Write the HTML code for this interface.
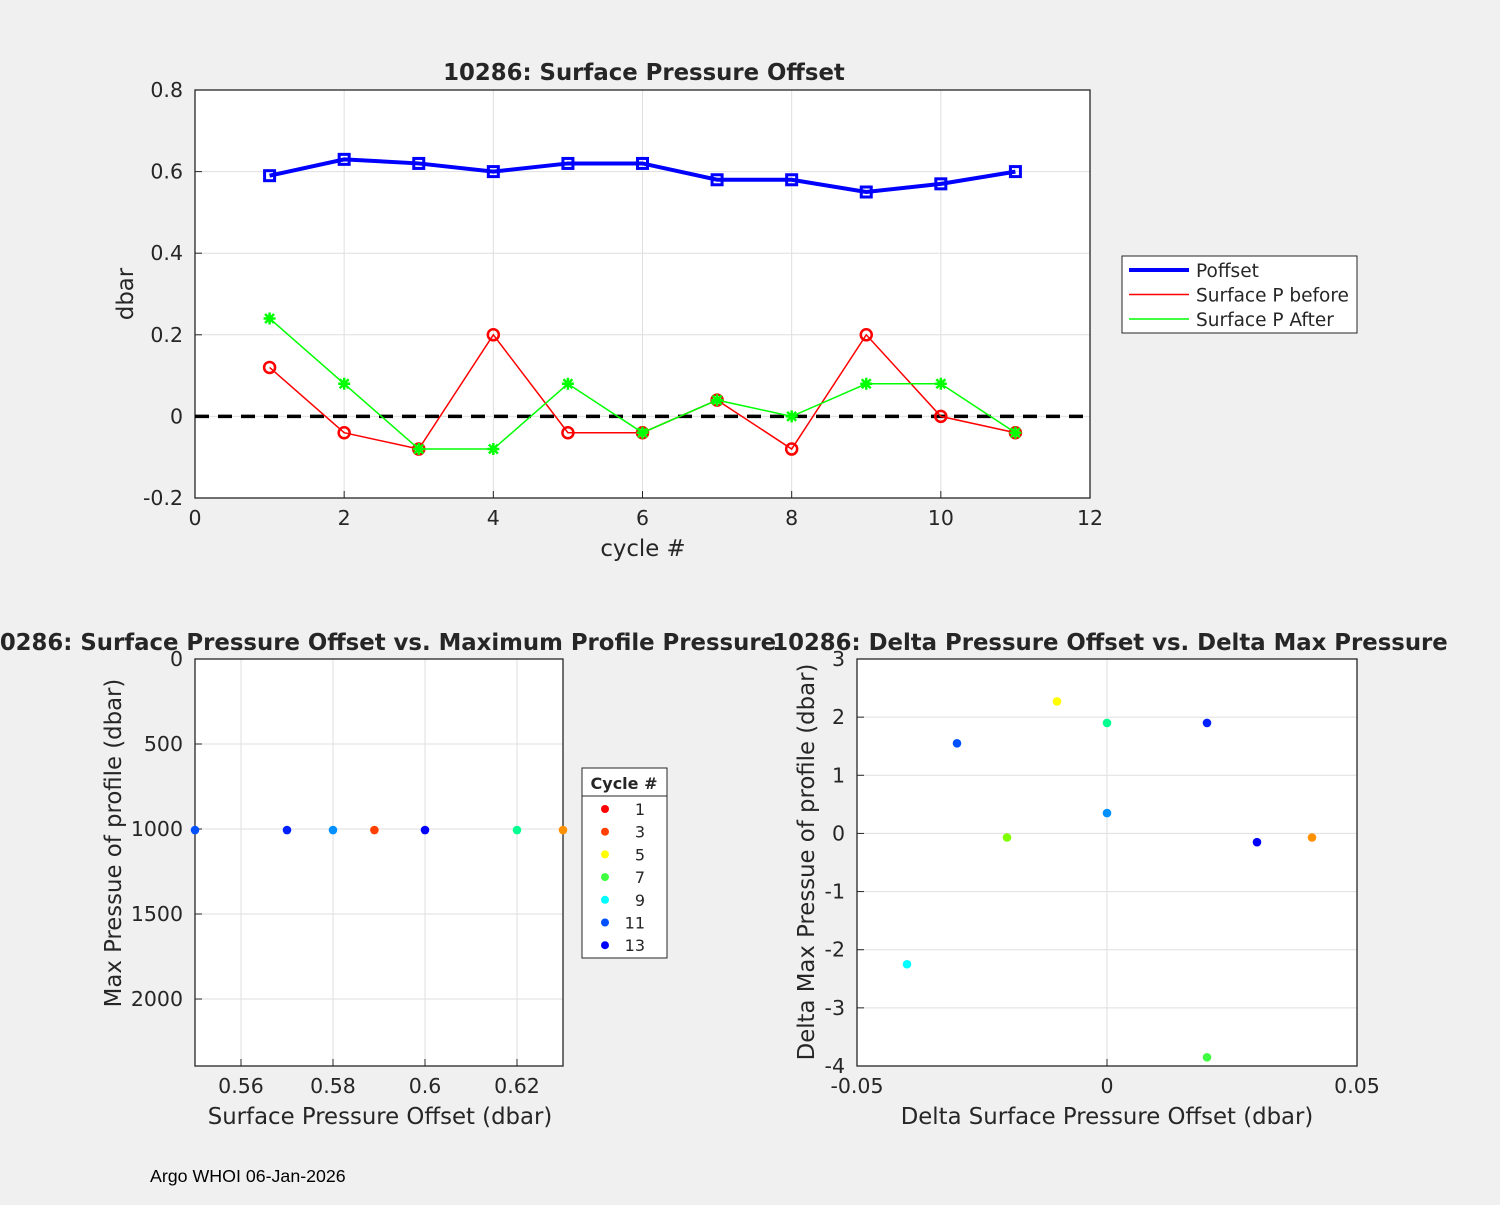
<!DOCTYPE html>
<html><head><meta charset="utf-8"><style>
body{margin:0;background:#f0f0f0;font-family:"Liberation Sans","DejaVu Sans",sans-serif}
svg text{font-family:"DejaVu Sans","Liberation Sans",sans-serif;fill:#262626}
</style></head><body>
<svg id="s" width="1500" height="1200" xmlns="http://www.w3.org/2000/svg"></svg>
<script>
const cycles=[1,2,3,4,5,6,7,8,9,10,11];
const poffset=[0.59,0.63,0.62,0.60,0.62,0.62,0.58,0.58,0.55,0.57,0.60];
const before=[0.12,-0.04,-0.08,0.2,-0.04,-0.04,0.04,-0.08,0.2,0,-0.04];
const after=[0.24,0.08,-0.08,-0.08,0.08,-0.04,0.04,0,0.08,0.08,-0.04];
const blOffset=[0.55,0.57,0.58,0.589,0.60,0.62,0.63];
const blMaxP=[1006,1006,1006,1006,1006,1006,1006];
const blColors=['#0050ff','#0020ff','#0090ff','#ff4000','#0000ff','#00ff90','#ff9000'];
const brDx=[-0.03,-0.01,0,0.02,-0.02,0,0.03,0.041,-0.04,0.02];
const brDy=[1.55,2.27,1.9,1.9,-0.07,0.35,-0.15,-0.07,-2.25,-3.85];
const brColors=['#0050ff','#ffff00','#00ff90','#0020ff','#80ff00','#0090ff','#0000ff','#ff9000','#00ffff','#40ff40'];
const legCycles=['1','3','5','7','9','11','13'];
const legColors=['#ff0000','#ff4000','#ffff00','#40ff40','#00ffff','#0050ff','#0000ff'];
const topXT=[0,2,4,6,8,10,12],topYT=[-0.2,0,0.2,0.4,0.6,0.8];
const blXT=[0.56,0.58,0.6,0.62],blYT=[0,500,1000,1500,2000];
const brXT=[-0.05,0,0.05],brYT=[-4,-3,-2,-1,0,1,2,3];
const S=document.getElementById('s'),NS='http://www.w3.org/2000/svg';
function el(t,a,p){const e=document.createElementNS(NS,t);for(const k in a)e.setAttribute(k,a[k]);(p||S).appendChild(e);return e;}
function txt(x,y,s,a,name){const e=el('text',Object.assign({x:x,y:y,'font-size':20},a));e.textContent=s;

return e;}
function axes(name,L,T,R,B,x0,x1,y0,y1,xt,yt,xf,yf){
 const g=el('g',{});
 
 
 const X=v=>L+(v-x0)/(x1-x0)*(R-L),Y=v=>T+(v-y0)/(y1-y0)*(B-T);
 el('rect',{x:L,y:T,width:R-L,height:B-T,fill:'#fff'},g);
 xt.forEach(v=>{el('line',{x1:X(v),x2:X(v),y1:T,y2:B,stroke:'#dfdfdf'},g);
  el('line',{x1:X(v),x2:X(v),y1:B,y2:B-7,stroke:'#262626'},g);
  txt(X(v),B+27,xf(v),{'text-anchor':'middle','font-size':20.5},'x-tick-label');});
 yt.forEach(v=>{el('line',{x1:L,x2:R,y1:Y(v),y2:Y(v),stroke:'#dfdfdf'},g);
  el('line',{x1:L,x2:L+7,y1:Y(v),y2:Y(v),stroke:'#262626'},g);
  txt(L-12,Y(v)+7,yf(v),{'text-anchor':'end','font-size':20.5},'y-tick-label');});
 el('rect',{x:L,y:T,width:R-L,height:B-T,fill:'none',stroke:'#262626','stroke-width':1.3},g);
 return {X,Y};
}
function f(v){return String(+v.toFixed(3));}
let a=axes('top-axes',195,90,1090,498,0,12,0.8,-0.2,topXT,topYT,f,f);
el('line',{x1:195,x2:1090,y1:a.Y(0),y2:a.Y(0),stroke:'#000','stroke-width':3.5,'stroke-dasharray':'14,9'});
function series(vals,col,w,mk,name){
 el('polyline',{points:cycles.map((c,i)=>a.X(c)+','+a.Y(vals[i])).join(' '),fill:'none',stroke:col,'stroke-width':w});
 cycles.forEach((c,i)=>{const x=a.X(c),y=a.Y(vals[i]);let m;
  if(mk=='sq')m=el('rect',{x:x-5,y:y-5,width:10,height:10,fill:'none',stroke:col,'stroke-width':3});
  else if(mk=='o')m=el('circle',{cx:x,cy:y,r:5.5,fill:'none',stroke:col,'stroke-width':2.5});
  else{m=el('path',{d:`M${x-6} ${y}H${x+6}M${x} ${y-6}V${y+6}M${x-4.5} ${y-4.5}L${x+4.5} ${y+4.5}M${x-4.5} ${y+4.5}L${x+4.5} ${y-4.5}`,stroke:col,'stroke-width':2.5,fill:'none'});}
  
  });
}
series(before,'#ff0000',1.5,'o','before');
series(after,'#00ff00',1.5,'*','after');
series(poffset,'#0000ff',4,'sq','poffset');
txt(644,80,'10286: Surface Pressure Offset',{'text-anchor':'middle','font-weight':'bold','font-size':22.8},'top-title');
txt(643,556,'cycle #',{'text-anchor':'middle','font-size':22.8},'top-x-title');
txt(133,294,'dbar',{'text-anchor':'middle','font-size':22.8,transform:'rotate(-90 133 294)'},'top-y-title');
let lg=el('g',{});
el('rect',{x:1122,y:256,width:235,height:77,fill:'#fff',stroke:'#262626'},lg);
[['Poffset','#0000ff',4],['Surface P before','#ff0000',1.5],['Surface P After','#00ff00',1.5]].forEach((r,i)=>{
 el('line',{x1:1129,x2:1189,y1:270+i*24.5,y2:270+i*24.5,stroke:r[1],'stroke-width':r[2]},lg);
 txt(1196,277+i*24.5,r[0],{'font-size':18.5},'legend-entry');});
let b=axes('bl-axes',195,659,563,1066,0.55,0.63,0,2394,blXT,blYT,f,v=>String(v));
blOffset.forEach((v,i)=>{const m=el('circle',{cx:b.X(v),cy:b.Y(blMaxP[i]),r:4.3,fill:blColors[i]});
 
 });
txt(380,650,'10286: Surface Pressure Offset vs. Maximum Profile Pressure',{'text-anchor':'middle','font-weight':'bold','font-size':22.8},'bl-title');
txt(380,1124,'Surface Pressure Offset (dbar)',{'text-anchor':'middle','font-size':22.8},'bl-x-title');
txt(121,843,'Max Pressue of profile (dbar)',{'text-anchor':'middle','font-size':22.8,transform:'rotate(-90 121 843)'},'bl-y-title');
let lg2=el('g',{});
el('rect',{x:582,y:768,width:85,height:190,fill:'#fff',stroke:'#262626'},lg2);
el('line',{x1:582,x2:667,y1:796,y2:796,stroke:'#262626'},lg2);
txt(624,789,'Cycle #',{'text-anchor':'middle','font-size':16,'font-weight':'bold'},'legend-title');
legCycles.forEach((c,i)=>{const y=809+i*22.7;el('circle',{cx:605,cy:y,r:4,fill:legColors[i]},lg2);
 txt(645,y+6,c,{'text-anchor':'end','font-size':16},'legend-entry');});
let c=axes('br-axes',857,659,1357,1066,-0.05,0.05,3,-4,brXT,brYT,f,v=>String(v));
brDx.forEach((v,i)=>{const m=el('circle',{cx:c.X(v),cy:c.Y(brDy[i]),r:4.3,fill:brColors[i]});
 
 });
txt(1110,650,'10286: Delta Pressure Offset vs. Delta Max Pressure',{'text-anchor':'middle','font-weight':'bold','font-size':22.8},'br-title');
txt(1107,1124,'Delta Surface Pressure Offset (dbar)',{'text-anchor':'middle','font-size':22.8},'br-x-title');
txt(814,862,'Delta Max Pressue of profile (dbar)',{'text-anchor':'middle','font-size':22.8,transform:'rotate(-90 814 862)'},'br-y-title');
txt(150,1182,'Argo WHOI 06-Jan-2026',{'font-size':17.8,style:'fill:#000;font-family:Liberation Sans'},'footer-note');
</script>
</body></html>
